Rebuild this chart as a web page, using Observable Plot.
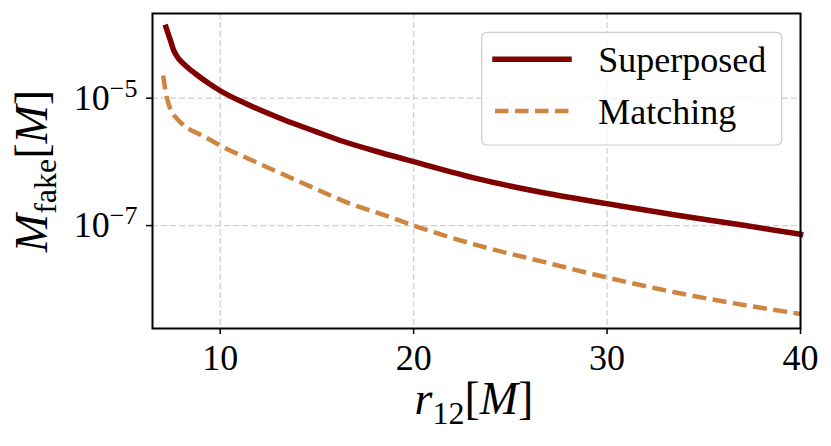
<!DOCTYPE html>
<html><head><meta charset="utf-8">
<script src="https://cdn.jsdelivr.net/npm/d3@7"></script>
<script src="https://cdn.jsdelivr.net/npm/@observablehq/plot@0.6"></script>
<style>body{margin:0;background:#fff} svg text{font-family:"Liberation Serif","Times New Roman",serif !important;}</style>
</head><body><div id="chart"></div>
<script>
// Data
const supX = [7.2, 7.43, 7.6, 7.86, 8.2, 8.72, 9.42, 10, 11.46, 13.19, 14.91, 16.38, 18.37, 20.09, 23.28, 26.72, 30, 33.62, 37.07, 40];
const supY = [1.3e-4, 8.05e-5, 5.6e-5, 4.16e-5, 3.27e-5, 2.42e-5, 1.7e-5, 1.31e-5, 7.9e-6, 4.72e-6, 3.02e-6, 2.09e-6, 1.38e-6, 9.9e-7, 5.45e-7, 3.28e-7, 2.21e-7, 1.45e-7, 1.01e-7, 7.3e-8];
const matX = [7.05, 7.17, 7.31, 7.52, 7.86, 8.38, 9.07, 10, 11.46, 13.19, 14.91, 16.64, 18.37, 20, 23.28, 26.72, 30, 33.62, 37.07, 40];
const matY = [2.27e-5, 1.32e-5, 8.5e-6, 6.0e-6, 4.45e-6, 3.3e-6, 2.6e-6, 1.81e-6, 1.12e-6, 6.5e-7, 3.8e-7, 2.26e-7, 1.5e-7, 1.0e-7, 4.92e-8, 2.69e-8, 1.53e-8, 8.8e-9, 5.66e-9, 4.1e-9];
const xTicks = [10, 20, 30, 40];
const yTicks = [1e-5, 1e-7];
const yTickExp = ["\u22125", "\u22127"];
const seriesNames = ["Superposed", "Matching"];
const seriesColors = ["#800000", "#cd853f"];

const sup = supX.map((x, i) => ({x, y: supY[i]}));
const mat = matX.map((x, i) => ({x, y: matY[i]}));
const FONT = "Liberation Serif, Times New Roman, serif";
const gridStyle = {stroke: "#b0b0b0", strokeOpacity: 0.6, strokeDasharray: "6,3", strokeWidth: 1.3};

const chart = Plot.plot({
  width: 831, height: 446,
  marginLeft: 152, marginRight: 31, marginTop: 13, marginBottom: 118,
  style: {fontFamily: FONT, background: "white", color: "black"},
  x: {domain: [6.5, 40]},
  y: {type: "log", domain: [2.42e-9, 2.14e-4]},
  marks: [
    Plot.gridX(xTicks, gridStyle),
    Plot.gridY(yTicks, gridStyle),
    Plot.line(sup, {x: "x", y: "y", stroke: seriesColors[0], strokeWidth: 5.5, curve: "monotone-x", strokeLinecap: "square"}),
    Plot.line(mat, {x: "x", y: "y", stroke: seriesColors[1], strokeWidth: 4.5, curve: "monotone-x", strokeDasharray: "14,6.5", strokeLinecap: "butt"}),
    Plot.frame({stroke: "black", strokeWidth: 2}),
    Plot.axisX(xTicks, {tickSize: 6, tickPadding: 10, fontSize: 36, fontFamily: FONT, stroke: "black", strokeWidth: 1.5, label: null}),
    Plot.axisY(yTicks, {tickSize: 6, tickPadding: 9, fontSize: 36, fontFamily: FONT, stroke: "black", strokeWidth: 1.5, tickFormat: () => "10", label: null})
  ]
});
chart.setAttribute("font-family", FONT);
chart.style.fontFamily = FONT;
document.getElementById("chart").appendChild(chart);

const svg = d3.select(chart);
svg.selectAll("text").attr("font-family", FONT).style("font-family", FONT).style("font-variant", "normal");
// superscript exponents on y tick labels
svg.selectAll('[aria-label="y-axis tick label"] text').each(function(d, i) {
  d3.select(this).append("tspan").attr("dy", -13).attr("font-size", 26).text(yTickExp[i]);
});

// axis labels
const xl = svg.append("text").attr("x", 474).attr("y", 414).attr("text-anchor", "middle")
  .attr("font-family", FONT).attr("font-size", 46).attr("fill", "black");
xl.append("tspan").attr("font-style", "italic").text("r");
xl.append("tspan").attr("font-size", 32).attr("dy", 10).text("12");
xl.append("tspan").attr("dy", -10).text("[");
xl.append("tspan").attr("font-style", "italic").text("M");
xl.append("tspan").text("]");

const yl = svg.append("text").attr("transform", "translate(47,171) rotate(-90)").attr("text-anchor", "middle")
  .attr("font-family", FONT).attr("font-size", 46).attr("fill", "black");
yl.append("tspan").attr("font-style", "italic").text("M");
yl.append("tspan").attr("font-size", 32).attr("dy", 9).text("fake");
yl.append("tspan").attr("dy", -9).text("[");
yl.append("tspan").attr("font-style", "italic").text("M");
yl.append("tspan").text("]");

// legend
const lg = svg.append("g");
lg.append("rect").attr("x", 481.7).attr("y", 32.3).attr("width", 300).attr("height", 112.7).attr("rx", 5)
  .attr("fill", "white").attr("fill-opacity", 0.8).attr("stroke", "#cccccc").attr("stroke-width", 1.2);
const rowY = [59.3, 111];
seriesNames.forEach((name, i) => {
  lg.append("line").attr("x1", 495).attr("x2", 569).attr("y1", rowY[i]).attr("y2", rowY[i])
    .attr("stroke", seriesColors[i]).attr("stroke-width", i === 0 ? 5.5 : 4.5)
    .attr("stroke-linecap", i === 0 ? "square" : "butt")
    .attr("stroke-dasharray", i === 0 ? null : "13.5,6.5");
  lg.append("text").attr("x", 598.3).attr("y", rowY[i] + 12.5).attr("text-anchor", "start")
    .attr("font-family", FONT).attr("font-size", 36).attr("fill", "black").text(name);
});
</script>
</body></html>
